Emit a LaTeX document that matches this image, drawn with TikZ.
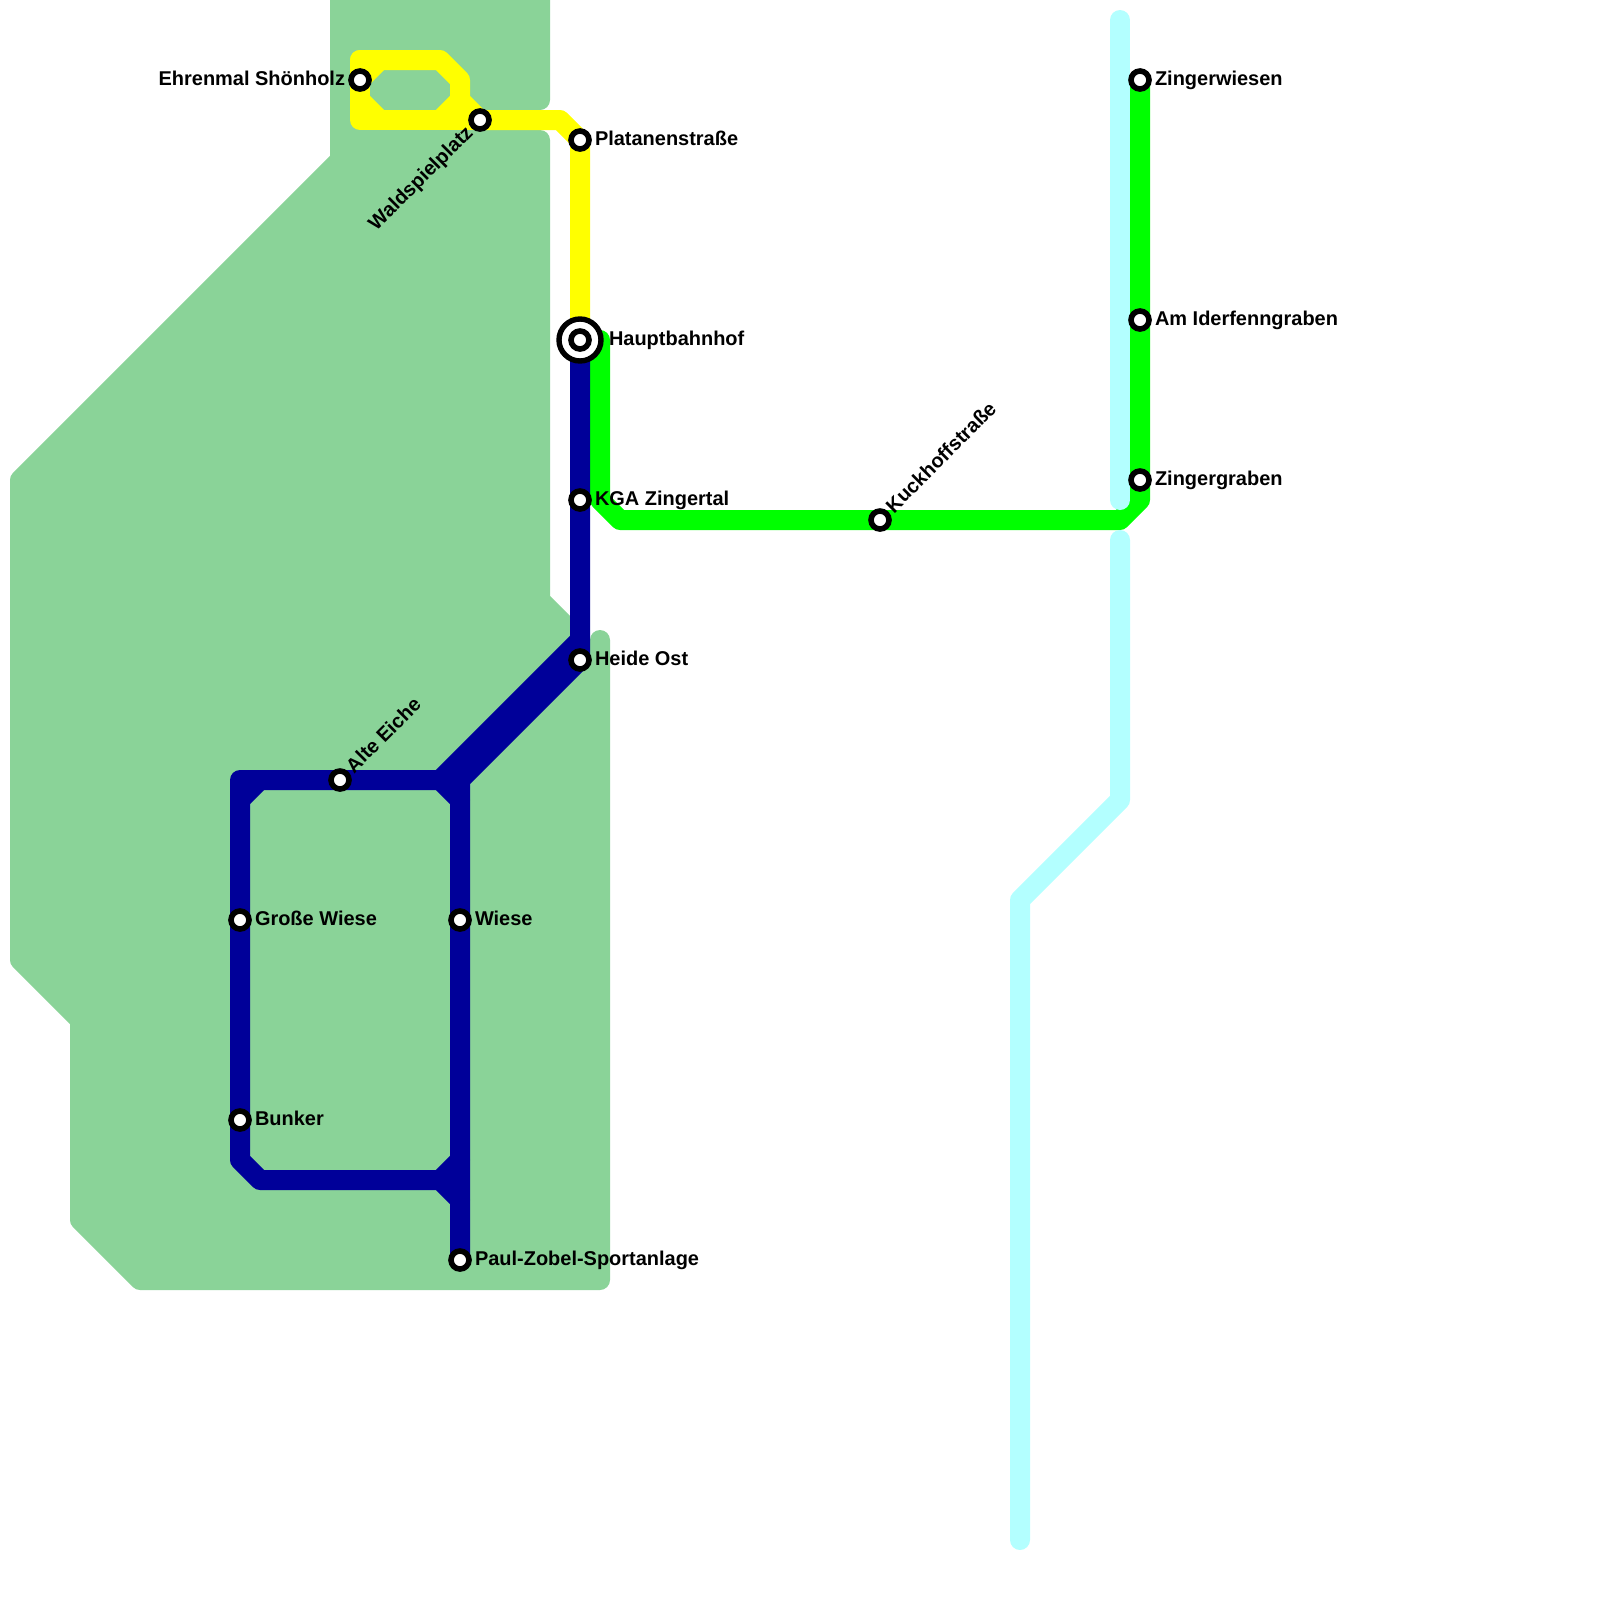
\documentclass[tikz,border=0pt]{standalone}
\usepackage{fontspec}
\setmainfont{Liberation Sans}
\usepackage{tikz}
\usetikzlibrary{calc}
\definecolor{parkgreen}{RGB}{138,211,152}
\definecolor{lineblue}{RGB}{0,0,153}
\definecolor{linecyan}{RGB}{179,255,255}
\definecolor{lineyellow}{RGB}{255,255,0}
\definecolor{linegreen}{RGB}{0,255,0}
\tikzset{
  park/.style={fill=parkgreen,draw=parkgreen,line width=.5cm,line join=round},
  metro/.style={line width=.5cm,line join=round,line cap=round},
  station/.style={circle,draw=black,fill=white,line width=.14cm,minimum size=.45cm,inner sep=0pt,outer sep=0pt},
  hubring/.style={circle,draw=black,fill=white,line width=.135cm,minimum size=1.05cm,inner sep=0pt,outer sep=0pt},
  stname/.style={font=\fontsize{14.2}{16}\selectfont\bfseries,inner sep=0pt,outer sep=0pt,text=black}
}
\begin{document}
\begin{tikzpicture}[x=.5cm,y=-.5cm]
    \path[use as bounding box] (0,0) rectangle (80,80);
    \clip (0,0) rectangle (80,80);

    \coordinate (ehrenmal) at (18,4);
    \coordinate (waldspiel) at (24,6);
    \coordinate (platanen) at (29,7);
    \coordinate (hbf) at (29,17);
    \coordinate (kga) at (29,25);
    \coordinate (heideost) at (29,33);
    \coordinate (alteeiche) at (17,39);
    \coordinate (grossewiese) at (12,46);
    \coordinate (bunker) at (12,56);
    \coordinate (wiese) at (23,46);
    \coordinate (paulzobel) at (23,63);
    \coordinate (kuckhoff) at (44,26);
    \coordinate (zingerwiesen) at (57,4);
    \coordinate (iderfenn) at (57,16);
    \coordinate (zingergraben) at (57,24);

    % park
    \draw[park] (17,-2) -- (27,-2) -- (27,5) -- (18,5) -- (18,7) -- (27,7) -- (27,30) -- (29,32) -- (29,33) -- (30,33) -- (30,32)
      -- (30,64) -- (7,64) -- (4,61) -- (4,51) -- (1,48) -- (1,24) -- (17,8) -- cycle;

    % yellow
    \draw[metro,lineyellow] (18,3) -- (22,3) -- (23,4) -- (23,5) -- (waldspiel) -- (28,6) -- (platanen) -- (hbf);
    \draw[metro,lineyellow] (18,3) -- (ehrenmal) -- (18,6) -- (waldspiel);
    \draw[metro,lineyellow] (22,6) -- (23,5);
    \draw[metro,lineyellow] (ehrenmal) -- (19,3);
    \draw[metro,lineyellow] (18,5) -- (19,6);

    % green
    \draw[metro,linegreen] (30,17) -- (30,25) -- (31,26) -- (kuckhoff) -- (56,26) -- (57,25) -- (zingergraben) -- (iderfenn) -- (zingerwiesen);

    % cyan
    \draw[metro,linecyan] (56,1) -- (56,25);
    \draw[metro,linecyan] (56,27) -- (56,40) -- (51,45) -- (51,77);

    % blue
    \draw[metro,lineblue] (hbf) -- (kga) -- (heideost) -- (23,39) -- (paulzobel);
    \draw[metro,lineblue] (29,32) -- (22,39) -- (alteeiche) -- (12,39) -- (grossewiese) -- (bunker) -- (12,58) -- (13,59) -- (22,59) -- (23,60);
    \draw[metro,lineblue] (22,39) -- (23,40);
    \draw[metro,lineblue] (13,39) -- (12,40);
    \draw[metro,lineblue] (22,59) -- (23,58);

    % stops
    \node[station] (ehrenmalstop) at (ehrenmal) {};
    \node[station] (waldspielstop) at (waldspiel) {};
    \node[station] (platanenstop) at (platanen) {};
    \node[hubring] (hbfring) at (hbf) {};
    \node[station] (hbfstop) at (hbf) {};
    \node[station] (kgastop) at (kga) {};
    \node[station] (heideoststop) at (heideost) {};
    \node[station] (alteeichestop) at (alteeiche) {};
    \node[station] (grossewiesestop) at (grossewiese) {};
    \node[station] (bunkerstop) at (bunker) {};
    \node[station] (wiesestop) at (wiese) {};
    \node[station] (paulzobelstop) at (paulzobel) {};
    \node[station] (kuckhoffstop) at (kuckhoff) {};
    \node[station] (zingerwiesenstop) at (zingerwiesen) {};
    \node[station] (iderfennstop) at (iderfenn) {};
    \node[station] (zingergrabenstop) at (zingergraben) {};

    % names
    \node[stname,anchor=base east] (ehrenmaltext) at ($(ehrenmal)+(-.75,.25)$) {Ehrenmal Shönholz};
    \node[stname,anchor=base east,rotate=45] (waldspieltext) at ($(waldspiel)+(-.3,.7)$) {Waldspielplatz};
    \node[stname,anchor=base west] (platanentext) at ($(platanen)+(.75,.25)$) {Platanenstraße};
    \node[stname,anchor=base west] (hbftext) at ($(hbf)+(1.45,.25)$) {Hauptbahnhof};
    \node[stname,anchor=base west] (kgatext) at ($(kga)+(.75,.25)$) {KGA Zingertal};
    \node[stname,anchor=base west] (heideosttext) at ($(heideost)+(.75,.25)$) {Heide Ost};
    \node[stname,anchor=base west,rotate=45] (alteeichetext) at ($(alteeiche)+(.7,-.3)$) {Alte Eiche};
    \node[stname,anchor=base west] (grossewiesetext) at ($(grossewiese)+(.75,.25)$) {Große Wiese};
    \node[stname,anchor=base west] (bunkertext) at ($(bunker)+(.75,.25)$) {Bunker};
    \node[stname,anchor=base west] (wiesetext) at ($(wiese)+(.75,.25)$) {Wiese};
    \node[stname,anchor=base west] (paulzobeltext) at ($(paulzobel)+(.75,.25)$) {Paul-Zobel-Sportanlage};
    \node[stname,anchor=base west,rotate=45] (kuckhofftext) at ($(kuckhoff)+(.7,-.3)$) {Kuckhoffstraße};
    \node[stname,anchor=base west] (zingerwiesentext) at ($(zingerwiesen)+(.75,.25)$) {Zingerwiesen};
    \node[stname,anchor=base west] (iderfenntext) at ($(iderfenn)+(.75,.25)$) {Am Iderfenngraben};
    \node[stname,anchor=base west] (zingergrabentext) at ($(zingergraben)+(.75,.25)$) {Zingergraben};
\end{tikzpicture}
\end{document}
